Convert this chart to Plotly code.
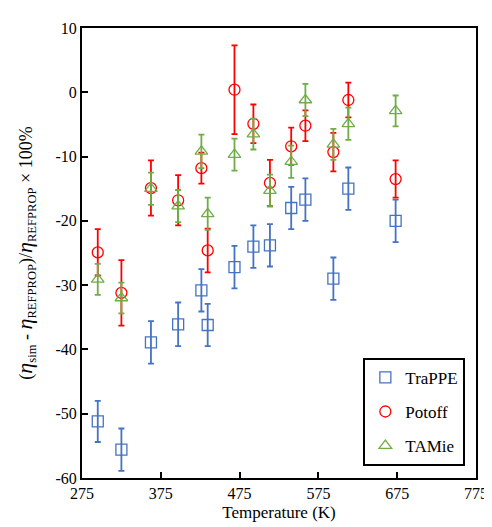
import plotly.graph_objects as go

temps = [295, 325, 362.5, 397, 426.5, 434.5, 468.5, 492.5, 513.5, 540.5, 558.5, 594, 613, 673]

trappe_y = [-51.2, -55.6, -38.9, -36.1, -30.8, -36.2, -27.2, -24.0, -23.8, -18.0, -16.7, -29.0, -15.0, -20.0]
trappe_err = [3.2, 3.3, 3.3, 3.4, 3.3, 3.3, 3.3, 3.3, 3.3, 3.3, 3.3, 3.3, 3.3, 3.3]

potoff_y = [-24.9, -31.2, -14.9, -16.8, -11.8, -24.6, 0.4, -4.9, -14.1, -8.4, -5.2, -9.3, -1.2, -13.5]
potoff_err = [3.6, 5.1, 4.3, 3.9, 2.4, 3.4, 6.9, 3.0, 3.6, 2.9, 2.4, 3.0, 2.7, 2.9]

tamie_y = [-29.1, -32.0, -15.0, -17.7, -9.2, -18.9, -9.7, -6.5, -15.3, -10.8, -1.2, -8.1, -4.9, -2.9]
tamie_err = [2.4, 2.4, 2.5, 2.5, 2.6, 2.5, 2.5, 2.4, 2.5, 2.5, 2.5, 2.4, 2.5, 2.4]

x_ticks = [275, 375, 475, 575, 675, 775]
y_ticks = [10, 0, -10, -20, -30, -40, -50, -60]

series = [
    ("TraPPE", trappe_y, trappe_err, "#4472C4", "square-open"),
    ("Potoff", potoff_y, potoff_err, "#FF0000", "circle-open"),
    ("TAMie", tamie_y, tamie_err, "#70AD47", "triangle-up-open"),
]

fig = go.Figure()
for name, ys, errs, color, sym in series:
    fig.add_trace(go.Scatter(
        x=temps, y=ys, mode="markers", name=name, legendgroup=name,
        marker=dict(symbol=sym, size=11, color=color, line=dict(width=1.3, color=color)),
        error_y=dict(type="data", array=errs, visible=True, color=color, thickness=1.8, width=3),
    ))

serif = "Liberation Serif, Times New Roman, serif"
eta = '<span style="font-size:22px"><i>η</i></span>'
ytitle = f"({eta}<sub>sim</sub> - {eta}<sub>REFPROP</sub>)/{eta}<sub>REFPROP</sub> × 100%"

fig.update_layout(
    width=492, height=527,
    margin=dict(l=74, r=14, t=20, b=57),
    paper_bgcolor="white", plot_bgcolor="white",
    font=dict(family=serif, size=16, color="black"),
    showlegend=True,
    legend=dict(
        x=0.973, y=0.027, xanchor="right", yanchor="bottom",
        bordercolor="black", borderwidth=2, bgcolor="white",
        font=dict(family=serif, size=17, color="black"),
        tracegroupgap=9, itemwidth=30,
    ),
    xaxis=dict(
        range=[275, 775], tickvals=x_ticks, ticktext=[str(v) for v in x_ticks],
        showgrid=False, zeroline=False,
        showline=True, linecolor="black", linewidth=2, mirror=True,
        ticks="inside", ticklen=6, tickwidth=2, tickcolor="black",
        tickfont=dict(family=serif, size=16),
        title=dict(text="Temperature (K)", font=dict(family=serif, size=17), standoff=5),
    ),
    yaxis=dict(
        range=[-60, 10], tickvals=y_ticks, ticktext=[str(v) for v in y_ticks],
        showgrid=False, zeroline=False,
        showline=True, linecolor="black", linewidth=2, mirror=True,
        ticks="inside", ticklen=6, tickwidth=2, tickcolor="black",
        tickfont=dict(family=serif, size=16),
        title=dict(text=ytitle, font=dict(family=serif, size=18), standoff=18),
    ),
)

fig.write_html("out.html")
